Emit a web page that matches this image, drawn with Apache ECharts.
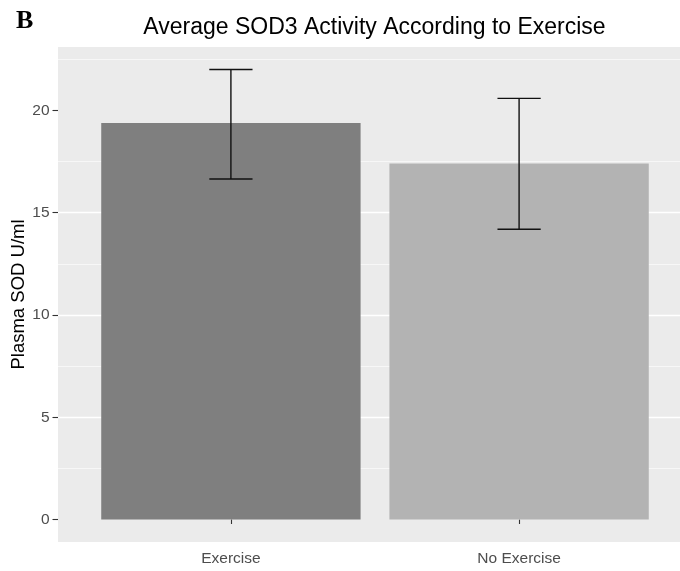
<!DOCTYPE html>
<html>
<head>
<meta charset="utf-8">
<script src="https://cdn.jsdelivr.net/npm/echarts@6/dist/echarts.min.js"></script>
<style>
  html, body { margin: 0; padding: 0; background: #ffffff; }
  #chart { width: 680px; height: 571px; }
</style>
</head>
<body>
<div id="chart"></div>
<script>
// Group means of plasma SOD activity with their error-bar limits
const groups = ['Exercise', 'No Exercise'];
const meanSOD = [19.38, 17.41];
const lowerSOD = [16.65, 14.19];
const upperSOD = [22.0, 20.59];
const yTicks = [0, 5, 10, 15, 20];
const barFills = ['#7F7F7F', '#B3B3B3'];

// Discrete groups sit at positions 1, 2, ... on a continuous x scale
const groupPos = groups.map((g, i) => i + 1);
const BAR_HALF = 0.45;     // bar width 0.9
const CAP_HALF = 0.075;    // error bar cap width 0.15

const barData = groupPos.map((p, i) => [p, meanSOD[i]]);
const errData = groupPos.map((p, i) => [p, lowerSOD[i], upperSOD[i]]);

const sans = '"Liberation Sans", Arial, sans-serif';
const chart = echarts.init(document.getElementById('chart'), null, { renderer: 'canvas' });

chart.setOption({
  animation: false,
  grid: {
    left: 58, top: 47, width: 634, height: 495,
    outerBoundsMode: 'none',
    containLabel: false,
    show: true, backgroundColor: '#EBEBEB', borderWidth: 0
  },
  graphic: [
    {
      type: 'text', x: 16, y: 21, z: 10,
      style: { text: 'B', font: 'bold 26px "Liberation Serif", "Times New Roman", serif',
               fill: '#000000', align: 'left', verticalAlign: 'middle' }
    },
    {
      type: 'text', x: 374.5, y: 27.5, z: 10,
      style: { text: 'Average SOD3 Activity According to Exercise', font: '23px ' + sans,
               fill: '#000000', align: 'center', verticalAlign: 'middle' }
    }
  ],
  xAxis: {
    type: 'value',
    min: 0.4, max: 2.6,
    splitNumber: 2,
    axisLine: { show: false },
    axisTick: { show: true, customValues: groupPos, length: 4.5,
                lineStyle: { color: '#333333', width: 1.1 } },
    axisLabel: {
      show: true, customValues: groupPos, margin: 9,
      color: '#4D4D4D', fontSize: 15.5, fontFamily: sans,
      formatter: v => groups[Math.round(v) - 1] || ''
    },
    splitLine: { show: true, showMinLine: false, showMaxLine: false,
                 lineStyle: { color: '#FFFFFF', width: 1.3 } }
  },
  yAxis: {
    type: 'value',
    min: -1.1, max: 23.1,
    splitNumber: 5,
    name: 'Plasma SOD U/ml',
    nameLocation: 'middle',
    nameGap: 30,
    nameMoveOverlap: false,
    nameTextStyle: { color: '#000000', fontSize: 18.5, fontFamily: sans },
    axisLine: { show: false },
    axisTick: { show: true, customValues: yTicks, length: 5.5,
                lineStyle: { color: '#333333', width: 1.1 } },
    axisLabel: { show: true, customValues: yTicks, margin: 8.5,
                 color: '#4D4D4D', fontSize: 15.5, fontFamily: sans },
    splitLine: { show: true, showMinLine: false, showMaxLine: false,
                 lineStyle: { color: '#FFFFFF', width: 1.3 } },
    minorTick: { show: false, splitNumber: 2 },
    minorSplitLine: { show: true, lineStyle: { color: '#FFFFFF', width: 0.6 } }
  },
  series: [
    {
      name: 'mean',
      type: 'custom',
      z: 2,
      data: barData,
      encode: { x: 0, y: 1 },
      renderItem: function (params, api) {
        const x = api.value(0);
        const y = api.value(1);
        const tl = api.coord([x - BAR_HALF, y]);
        const br = api.coord([x + BAR_HALF, 0]);
        return {
          type: 'rect',
          shape: { x: tl[0], y: tl[1], width: br[0] - tl[0], height: br[1] - tl[1] },
          style: { fill: barFills[params.dataIndex] }
        };
      }
    },
    {
      name: 'error',
      type: 'custom',
      z: 3,
      data: errData,
      encode: { x: 0, y: [1, 2] },
      renderItem: function (params, api) {
        const x = api.value(0);
        const lo = api.value(1);
        const hi = api.value(2);
        const top = api.coord([x, hi]);
        const bot = api.coord([x, lo]);
        const capL = api.coord([x - CAP_HALF, hi])[0];
        const capR = api.coord([x + CAP_HALF, hi])[0];
        const st = { stroke: '#111111', lineWidth: 1.4 };
        return {
          type: 'group',
          children: [
            { type: 'line', shape: { x1: top[0], y1: top[1], x2: bot[0], y2: bot[1] }, style: st },
            { type: 'line', shape: { x1: capL, y1: top[1], x2: capR, y2: top[1] }, style: st },
            { type: 'line', shape: { x1: capL, y1: bot[1], x2: capR, y2: bot[1] }, style: st }
          ]
        };
      }
    }
  ]
});
</script>
</body>
</html>
